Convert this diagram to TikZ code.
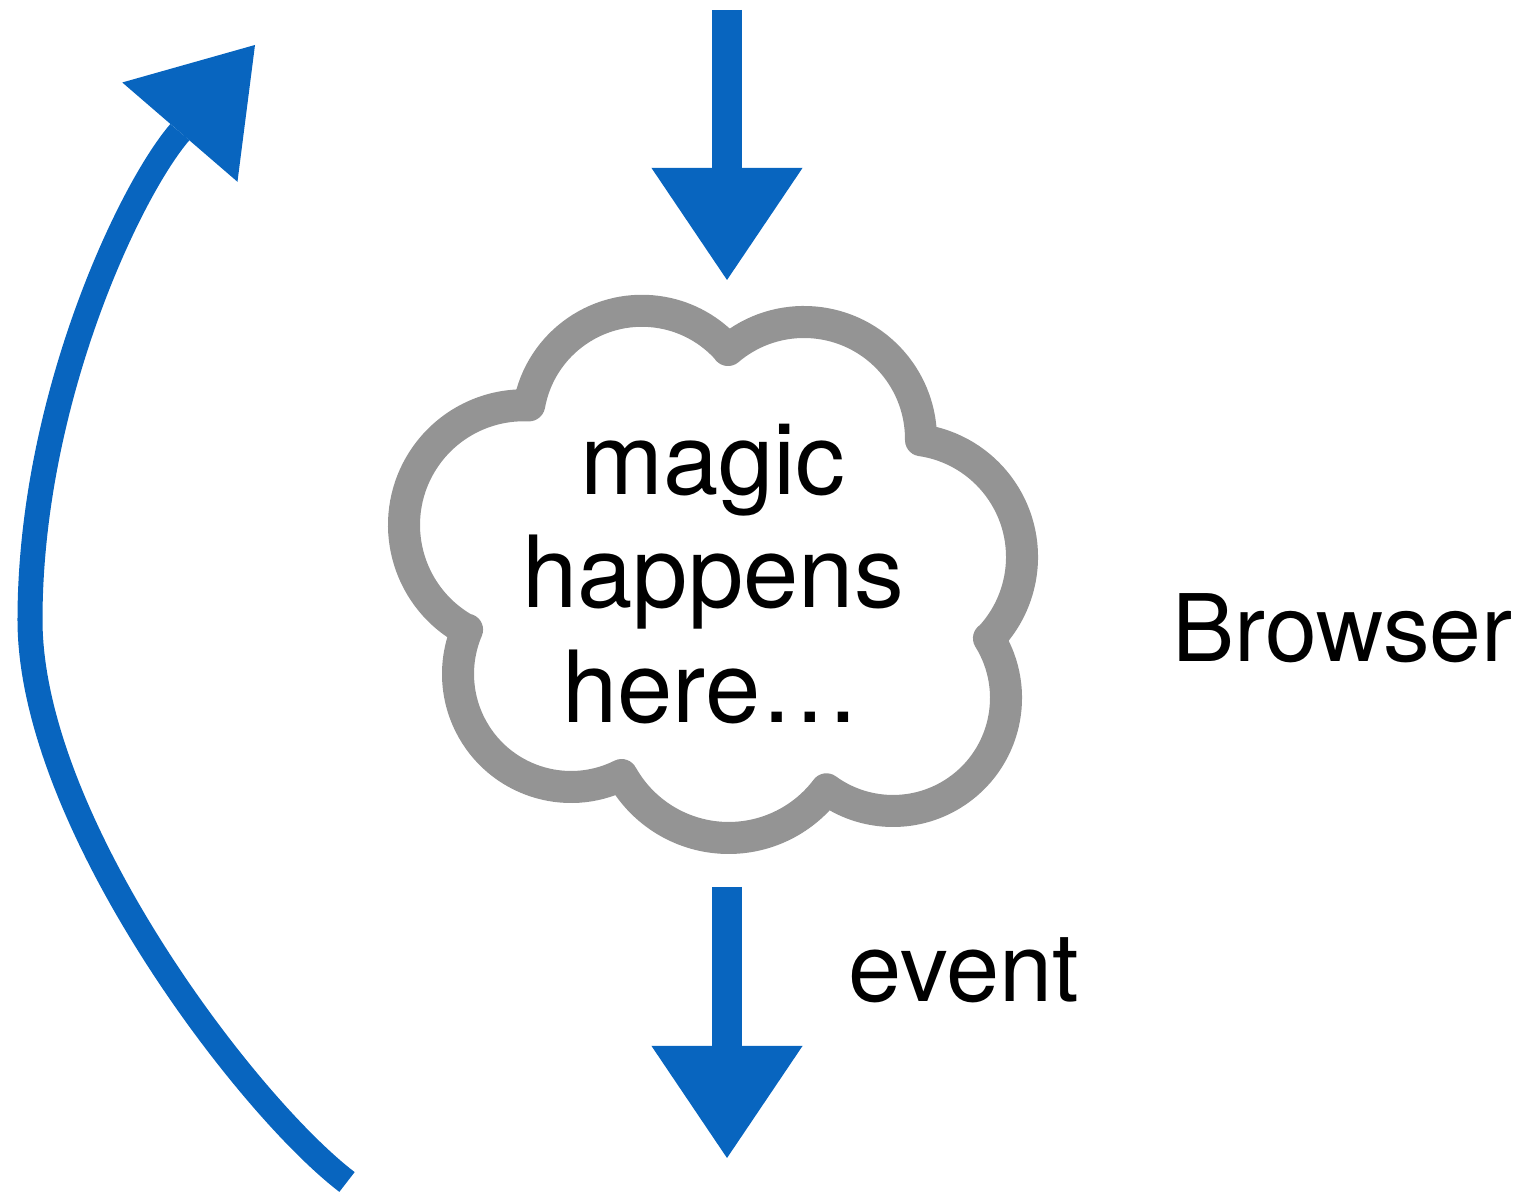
\documentclass[tikz,border=0pt]{standalone}
\usepackage{fontspec}
\setmainfont{TeX Gyre Heros}
\usetikzlibrary{arrows.meta}
\definecolor{chalkblue}{RGB}{8,101,191}
\definecolor{cloudgray}{RGB}{148,148,148}
\begin{document}
\begin{tikzpicture}[x=0.01cm,y=0.01cm,
  bluearrow/.style={draw=chalkblue, line width=0.3cm,
    -{Triangle[length=1.12cm,width=1.51cm,line width=0pt]}},
  curvearrow/.style={draw=chalkblue, line width=0.25cm,
    -{Triangle[length=1.15cm,width=1.52cm,line width=0pt]}},
  cloudline/.style={draw=cloudgray, line width=0.32cm, line cap=round, line join=round},
  bigtext/.style={inner sep=0pt, font=\fontsize{28.3}{34}\selectfont},
  sidetext/.style={inner sep=0pt, anchor=base west}]
\useasboundingbox (0,0) rectangle (1525,1192);

% cloud
\draw[cloudline]
  (642,766.6) ++(169.8:114.6) arc[start angle=169.8,end angle=41.2,radius=114.6]
  (804,753) ++(130.5:117) arc[start angle=130.5,end angle=-0.5,radius=117]
  (904,635) ++(81.7:118) arc[start angle=81.7,end angle=-42.6,radius=118]
  (893,494) ++(31.9:113) arc[start angle=31.9,end angle=-126.1,radius=113]
  (728.7,476.5) ++(-37.4:122.5) arc[start angle=-37.4,end angle=-150.4,radius=122.5]
  (571,518) ++(-63.4:113) arc[start angle=-63.4,end angle=-203.1,radius=113]
  (523.7,667) ++(239.5:119.7) arc[start angle=239.5,end angle=87.5,radius=119.7];

% cloud text
\node[bigtext, anchor=base] (m1) at (713,697) {magic};
\node[bigtext, anchor=base] (m2) at (713,584) {happens};
\node[bigtext, anchor=base] (m3) at (711,469) {here…};

% side labels
\node[sidetext, font=\fontsize{26.5}{32}\selectfont] (browser) at (1172,530) {Browser};
\node[sidetext, font=\fontsize{27.2}{32}\selectfont] (event) at (848,190) {event};

% arrows
\coordinate (t0) at (727,1182);
\coordinate (t1) at (727,912);
\draw[bluearrow] (t0) -- (t1);

\coordinate (b0) at (727,305);
\coordinate (b1) at (727,34);
\draw[bluearrow] (b0) -- (b1);

\coordinate (c0) at (347,10);
\coordinate (c1) at (255,1147);
\draw[curvearrow] (c0) .. controls (245,88) and (30,372) .. (30,572)
  .. controls (30,792) and (130,1002) .. (c1);
\end{tikzpicture}
\end{document}
